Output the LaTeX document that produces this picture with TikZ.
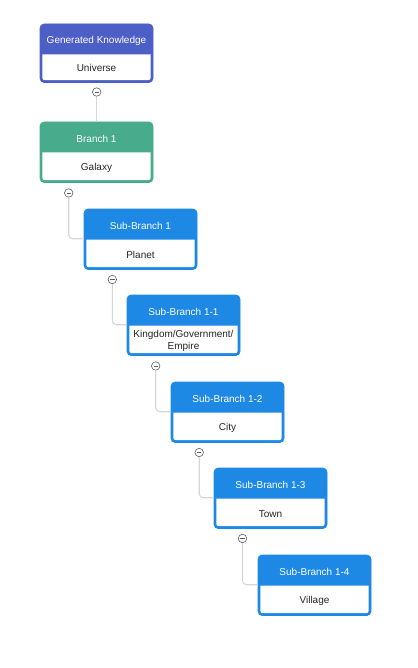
\documentclass[tikz,border=0pt]{standalone}
\usepackage{fontspec}
\setmainfont{Liberation Sans}
\definecolor{rootblue}{RGB}{75,95,198}
\definecolor{branchgreen}{RGB}{72,172,140}
\definecolor{subblue}{RGB}{30,136,229}
\definecolor{linkgray}{RGB}{214,214,214}
\definecolor{togglegray}{RGB}{95,95,95}
\tikzset{
  cardbox/.style={draw=#1, fill=#1, line width=0.6pt, rounded corners=4pt,
    minimum width=113pt, inner sep=0pt},
  hdrtext/.style={text=white, font=\fontsize{10}{12}\selectfont, inner sep=0pt},
  bodytext/.style={text=black!85, font=\fontsize{10}{12.5}\selectfont, align=center, inner sep=0pt},
  toggle/.style={circle, draw=togglegray, fill=white, line width=0.6pt,
    minimum size=8.5pt, inner sep=0pt,
    path picture={\draw[togglegray, line width=0.7pt]
      ([xshift=-2.2pt]path picture bounding box.center) --
      ([xshift=2.2pt]path picture bounding box.center);}},
  link/.style={draw=linkgray, line width=1.1pt, rounded corners=4pt}
}
% \mkcard[height]{name}{left}{top}{colour}{title}{body}
\newcommand{\mkcard}[7][60.5]{%
  \node[cardbox=#5, minimum height=#1pt] (#2) at (#3+56.5,#4+#1/2) {};
  \fill[white] ([xshift=2.6pt,yshift=-30.8pt]#2.north west) --
    ([xshift=-2.6pt,yshift=-30.8pt]#2.north east)
    [rounded corners=2.5pt] -- ([xshift=-2.6pt,yshift=2.6pt]#2.south east) --
    ([xshift=2.6pt,yshift=2.6pt]#2.south west)
    [sharp corners] -- cycle;
  \node[hdrtext] (#2-t) at ([yshift=-17.5pt]#2.north) {#6};
  \node[bodytext] (#2-x) at ([yshift=14.7pt]#2.south) {#7};
  \coordinate (#2-j) at ([yshift=-30pt]#2.north west);
}
\begin{document}
\begin{tikzpicture}[x=1pt,y=-1pt]
\useasboundingbox (0,0) rectangle (417,668);

\mkcard[58.5]{k0}{40}{24}{rootblue}{Generated Knowledge}{Universe}
\mkcard{k1}{40}{122}{branchgreen}{Branch 1}{Galaxy}
\mkcard{k2}{84}{209}{subblue}{Sub-Branch 1}{Planet}
\mkcard{k3}{127}{295}{subblue}{Sub-Branch 1-1}{Kingdom/Government/\\Empire}
\mkcard{k4}{171}{382}{subblue}{Sub-Branch 1-2}{City}
\mkcard{k5}{214}{468}{subblue}{Sub-Branch 1-3}{Town}
\mkcard{k6}{258}{555}{subblue}{Sub-Branch 1-4}{Village}

% collapse toggles under each parent
\node[toggle] (c0) at (96.7,92) {};
\node[toggle] (c1) at (68.7,193) {};
\node[toggle] (c2) at (112.3,279.5) {};
\node[toggle] (c3) at (155.7,366) {};
\node[toggle] (c4) at (199.2,452.5) {};
\node[toggle] (c5) at (242.5,538.5) {};

% links from toggles to children
\draw[link] (c0.south) -- (c0.south |- k1.north);
\draw[link] (c1.south) |- (k2-j);
\draw[link] (c2.south) |- (k3-j);
\draw[link] (c3.south) |- (k4-j);
\draw[link] (c4.south) |- (k5-j);
\draw[link] (c5.south) |- (k6-j);
\end{tikzpicture}
\end{document}
